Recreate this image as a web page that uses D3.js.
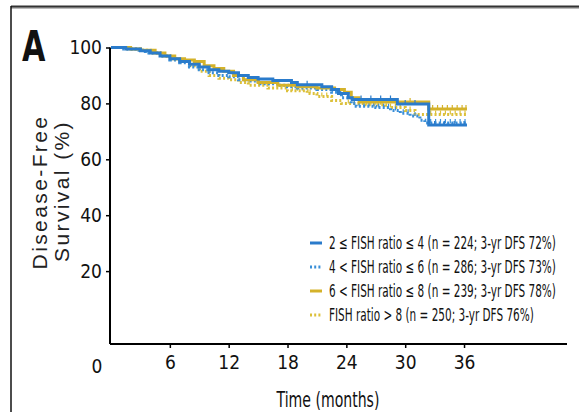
<!DOCTYPE html>
<html>
<head>
<meta charset="utf-8">
<script src="https://cdn.jsdelivr.net/npm/d3@7"></script>
<style>
  body { margin: 0; background: #fff; }
  svg { display: block; }
  .narrow { font-family: "Liberation Sans Narrow", "DejaVu Sans Condensed", "Liberation Sans", sans-serif; font-stretch: condensed; }
</style>
</head>
<body>
<div id="chart"></div>
<script>
// Kaplan-Meier steps: [month, survival %]
const curve2to4 = [[0,100],[1.5,99.5],[3,98.8],[4,98],[5,97],[6,96],[7,95],[8,94],[9,93],[10,92],[11,91.5],
  [12,91],[13,90],[14,89.3],[15,88.7],[16.5,88.2],[18.4,87.5],[19,86.7],[21.5,86],[22.5,85],[23.2,83.5],
  [24.2,82],[24.6,81.4],[29.2,79.8],[32.4,72.3],[36.3,72.3]];
const curve4to6 = [[0,100],[1,99.5],[2.5,99],[3.5,98],[5,97],[6,95.5],[7,94.5],[8,93],[9,92],[10,91],
  [11,90],[12,89.5],[13,88.5],[14,88],[15,87],[17,86.5],[18,86],[19,85.5],[21,85],[22.5,84],[23.5,82],
  [24.5,80],[25,79],[27,78.5],[28.5,77.5],[29.5,76.5],[30.5,75.5],[31.5,74],[32,73],[36.3,73]];
const curve6to8 = [[0,100],[2,99.5],[3,99],[4.5,98],[5.5,97],[6.5,96],[7.5,95.5],[8.5,95],[9.5,93.5],
  [10.5,92.5],[11.5,91.5],[12.5,90],[13.5,88.5],[15,87.5],[17,86.5],[19,86],[21,85.5],[22.8,85],[23.8,84],
  [24.5,82],[25.3,80.5],[32.4,78],[36.3,78]];
const curveOver8 = [[0,100],[1.5,99.5],[3,99],[4,98],[5,97],[6,96],[7,95],[8,93.5],[9,91.5],[10,90],
  [11,89],[12,88.5],[13,87.5],[14,86.5],[16,85.5],[18,84.5],[20,83.5],[21,82.5],[22.5,81],[23.5,80],
  [26,79.5],[28,78.5],[30,77.5],[31,76],[36.3,76]];

// censored observations (months)
const cens2to4 = [20, 25.5, 26.5, 27.5, 28.5, 30, 31, 33, 34, 35, 36];
const cens4to6 = [24.8, 25.3, 25.8, 26.3, 26.8, 27.3, 27.8, 28.3, 29, 29.8, 30.3, 31, 32.6, 33.1, 33.6, 34.1, 34.6, 35.1, 35.6, 36.1];
const cens6to8 = [26, 27.5, 29, 30.5, 32.8, 33.3, 33.8, 34.3, 34.8, 35.3, 35.8, 36.2];
const censOver8 = [18.5, 19, 19.5, 20.3, 21.5, 22, 24.2, 24.8, 25.4, 26.5, 27, 27.5, 28.5, 29, 29.5, 30.5,
  32.6, 33.1, 33.6, 34.1, 34.6, 35.1, 35.6, 36.1];

const legendLabels = [
  "2 \u2264 FISH ratio \u2264 4 (n = 224; 3-yr DFS 72%)",
  "4 < FISH ratio \u2264 6 (n = 286; 3-yr DFS 73%)",
  "6 < FISH ratio \u2264 8 (n = 239; 3-yr DFS 78%)",
  "FISH ratio > 8 (n = 250; 3-yr DFS 76%)"
];
const xTicks = [6, 12, 18, 24, 30, 36];
const yTicks = [20, 40, 60, 80, 100];

var width = 579, height = 412;

var svg = d3.select("#chart").append("svg")
    .attr("width", width)
    .attr("height", height);

// squeeze a text sideways to the width it has in the figure
function squeeze(sel, x0, y0, w) {
  var n = sel.node().getComputedTextLength();
  var s = n > 0 ? w / n : 1;
  sel.attr("x", 0).attr("y", 0)
    .attr("transform", "translate(" + x0 + "," + y0 + ") scale(" + s.toFixed(3) + ",1)");
  return s;
}

// panel frame
svg.append("line").attr("x1", 11).attr("x2", width).attr("y1", 8).attr("y2", 8)
  .attr("stroke", "#bbb").attr("stroke-width", 2);
svg.append("line").attr("x1", 11).attr("x2", width).attr("y1", 6.5).attr("y2", 6.5)
  .attr("stroke", "#333").attr("stroke-width", 2);
svg.append("line").attr("x1", 11).attr("x2", 11).attr("y1", 6).attr("y2", height)
  .attr("stroke", "#111").attr("stroke-width", 1.5);

var x = d3.scaleLinear().domain([0, 46.5]).range([111, 567]);
var y = d3.scaleLinear().domain([0, 100]).range([327, 47.5]);
var axisY = 344;

// axes
var gx = svg.append("g").attr("transform", "translate(0," + axisY + ")")
  .call(d3.axisBottom(x).tickValues(xTicks).tickSize(4).tickPadding(8));
gx.select(".domain").attr("d", "M110,0H567").attr("stroke-width", 2);
gx.selectAll(".tick line").attr("stroke-width", 1.5);
gx.selectAll("text").attr("class", "narrow").attr("font-size", 19).attr("fill", "#111");
// corner zero
svg.append("text").attr("class", "narrow")
  .attr("x", x(0) - 14).attr("y", 373)
  .attr("text-anchor", "middle").attr("font-size", 19).attr("fill", "#111").text("0");

var gy = svg.append("g").attr("transform", "translate(110,0)")
  .call(d3.axisLeft(y).tickValues(yTicks).tickSize(4).tickPadding(4));
gy.select(".domain").attr("d", "M0," + y(100) + "V" + axisY).attr("stroke-width", 2);
gy.selectAll(".tick line").attr("stroke-width", 1.5);
gy.selectAll("text").attr("class", "narrow").attr("font-size", 19).attr("fill", "#111");

// titles
svg.append("text").attr("class", "narrow")
  .attr("transform", "translate(22,61) scale(0.8,1)")
  .attr("font-size", 42).attr("font-weight", "bold").attr("fill", "#111").text("A");

svg.append("text")
  .attr("transform", "translate(47,192) rotate(-90)")
  .attr("text-anchor", "middle")
  .attr("font-family", "Liberation Sans, Arial, sans-serif")
  .attr("font-size", 21).attr("fill", "#222")
  .attr("letter-spacing", 2.4)
  .text("Disease-Free");
svg.append("text")
  .attr("transform", "translate(69,191) rotate(-90)")
  .attr("text-anchor", "middle")
  .attr("font-family", "Liberation Sans, Arial, sans-serif")
  .attr("font-size", 21).attr("fill", "#222")
  .attr("letter-spacing", 2.4)
  .text("Survival (%)");

var xt = svg.append("text").attr("class", "narrow")
  .attr("text-anchor", "middle")
  .attr("font-size", 22).attr("fill", "#111")
  .text("Time (months)");
squeeze(xt, 328, 407, 103);

// curves
var groups = [
  { data: curveOver8, cens: censOver8, color: "#dcc03a", dash: "2,2.2" },
  { data: curve4to6, cens: cens4to6, color: "#3a8fd8", dash: "2,2.2" },
  { data: curve6to8, cens: cens6to8, color: "#d4b22a", dash: null },
  { data: curve2to4, cens: cens2to4, color: "#2a7bcb", dash: null }
];

var line = d3.line()
  .x(function(d) { return x(d[0]); })
  .y(function(d) { return y(d[1]); })
  .curve(d3.curveStepAfter);

var bis = d3.bisector(function(d) { return d[0]; }).right;

groups.forEach(function(g) {
  svg.append("path")
    .attr("d", line(g.data))
    .attr("fill", "none")
    .attr("stroke", g.color)
    .attr("stroke-width", 3)
    .attr("stroke-dasharray", g.dash);
  svg.append("g").selectAll("line")
    .data(g.cens)
    .enter().append("line")
    .attr("x1", function(t) { return x(t); })
    .attr("x2", function(t) { return x(t); })
    .attr("y1", function(t) { return y(g.data[bis(g.data, t) - 1][1]); })
    .attr("y2", function(t) { return y(g.data[bis(g.data, t) - 1][1]) - 4; })
    .attr("stroke", g.color)
    .attr("stroke-width", 1.2);
});

// legend
var legendColors = ["#2a7bcb", "#3a8fd8", "#d4b22a", "#dcc03a"];
var legendDash = [null, "2,2.2", null, "2,2.2"];
var leg = svg.append("g");
var sx = null;
legendLabels.forEach(function(lab, i) {
  var ly = 243 + i * 24;
  leg.append("line")
    .attr("x1", 310).attr("x2", 322).attr("y1", ly).attr("y2", ly)
    .attr("stroke", legendColors[i]).attr("stroke-width", 3)
    .attr("stroke-dasharray", legendDash[i]);
  var t = leg.append("text").attr("class", "narrow")
    .attr("font-size", 17).attr("fill", "#111")
    .text(lab);
  // first row sets the squeeze for all rows
  if (sx === null) sx = squeeze(t, 329, ly + 6, 227);
  else t.attr("transform", "translate(329," + (ly + 6) + ") scale(" + sx.toFixed(3) + ",1)");
});
</script>
</body>
</html>
